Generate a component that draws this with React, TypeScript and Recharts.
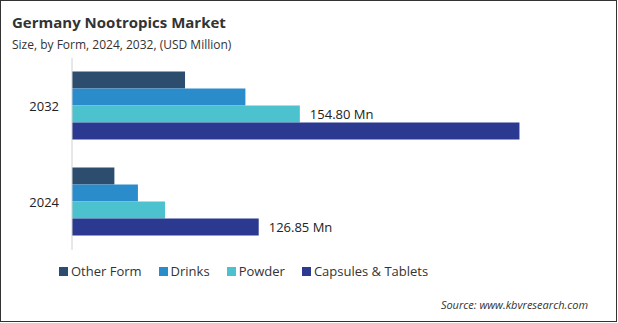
import React from 'react';
import { BarChart, Bar, XAxis, YAxis, LabelList } from 'recharts';

const years = ['2032', '2024'];
const otherForm = [76.8, 28.8];
const drinks = [117.8, 44.8];
const powder = [154.8, 63.2];
const capsules = [304.0, 126.85];
const powderLabels = ['154.80 Mn', ''];
const capsulesLabels = ['', '126.85 Mn'];

const series = [
  { key: 'otherForm', name: 'Other Form', color: '#2d4d6f' },
  { key: 'drinks', name: 'Drinks', color: '#2b8ccb' },
  { key: 'powder', name: 'Powder', color: '#4dc2cf' },
  { key: 'capsules', name: 'Capsules & Tablets', color: '#2b3990' }
];

const data = years.map((year, i) => ({
  year,
  otherForm: otherForm[i],
  drinks: drinks[i],
  powder: powder[i],
  capsules: capsules[i],
  powderLabel: powderLabels[i],
  capsulesLabel: capsulesLabels[i]
}));

const font = '"Open Sans", sans-serif';

const App = () => {
  return (
    <div
      style={{
        position: 'absolute',
        left: 0,
        top: 0,
        width: 617,
        height: 322,
        boxSizing: 'border-box',
        border: '1px solid #333',
        background: '#fff',
        fontFamily: font
      }}
    >
      <div style={{ position: 'absolute', left: 11, top: 11, fontSize: 15, fontWeight: 700, color: '#333' }}>
        Germany Nootropics Market
      </div>
      <div style={{ position: 'absolute', left: 11, top: 35, fontSize: 12, color: '#333' }}>
        Size, by Form, 2024, 2032, (USD Million)
      </div>
      <div style={{ position: 'absolute', left: -1, top: -1 }}>
        <BarChart
          width={618}
          height={323}
          data={data}
          layout="vertical"
          margin={{ top: 58, right: 75, bottom: 73, left: 0 }}
          barCategoryGap="14%"
          barGap={0}
        >
          <XAxis type="number" domain={[0, 320]} hide />
          <YAxis
            type="category"
            dataKey="year"
            width={72}
            tickLine={false}
            axisLine={{ stroke: '#d0d0d0' }}
            tickSize={6}
            tickMargin={7}
            tick={{ fill: '#222', fontSize: 13, fontFamily: font }}
          />
          {series.map((s) => (
            <Bar key={s.key} dataKey={s.key} name={s.name} fill={s.color} isAnimationActive={false}>
              {s.key === 'powder' && (
                <LabelList dataKey="powderLabel" position="right" offset={10} fill="#222" fontSize={13} fontFamily={font} />
              )}
              {s.key === 'capsules' && (
                <LabelList dataKey="capsulesLabel" position="right" offset={10} fill="#222" fontSize={13} fontFamily={font} />
              )}
            </Bar>
          ))}
        </BarChart>
      </div>
      <div
        style={{
          position: 'absolute',
          left: 58,
          top: 261,
          display: 'flex',
          alignItems: 'center',
          fontSize: 13,
          color: '#333'
        }}
      >
        {series.map((s) => (
          <div key={s.key} style={{ display: 'flex', alignItems: 'center', marginRight: 17 }}>
            <span style={{ display: 'inline-block', width: 9, height: 9, background: s.color, marginRight: 3 }} />
            <span>{s.name}</span>
          </div>
        ))}
      </div>
      <div
        style={{
          position: 'absolute',
          right: 28,
          top: 296,
          fontSize: 11,
          fontStyle: 'italic',
          color: '#333'
        }}
      >
        Source: www.kbvresearch.com
      </div>
    </div>
  );
};

export default App;
